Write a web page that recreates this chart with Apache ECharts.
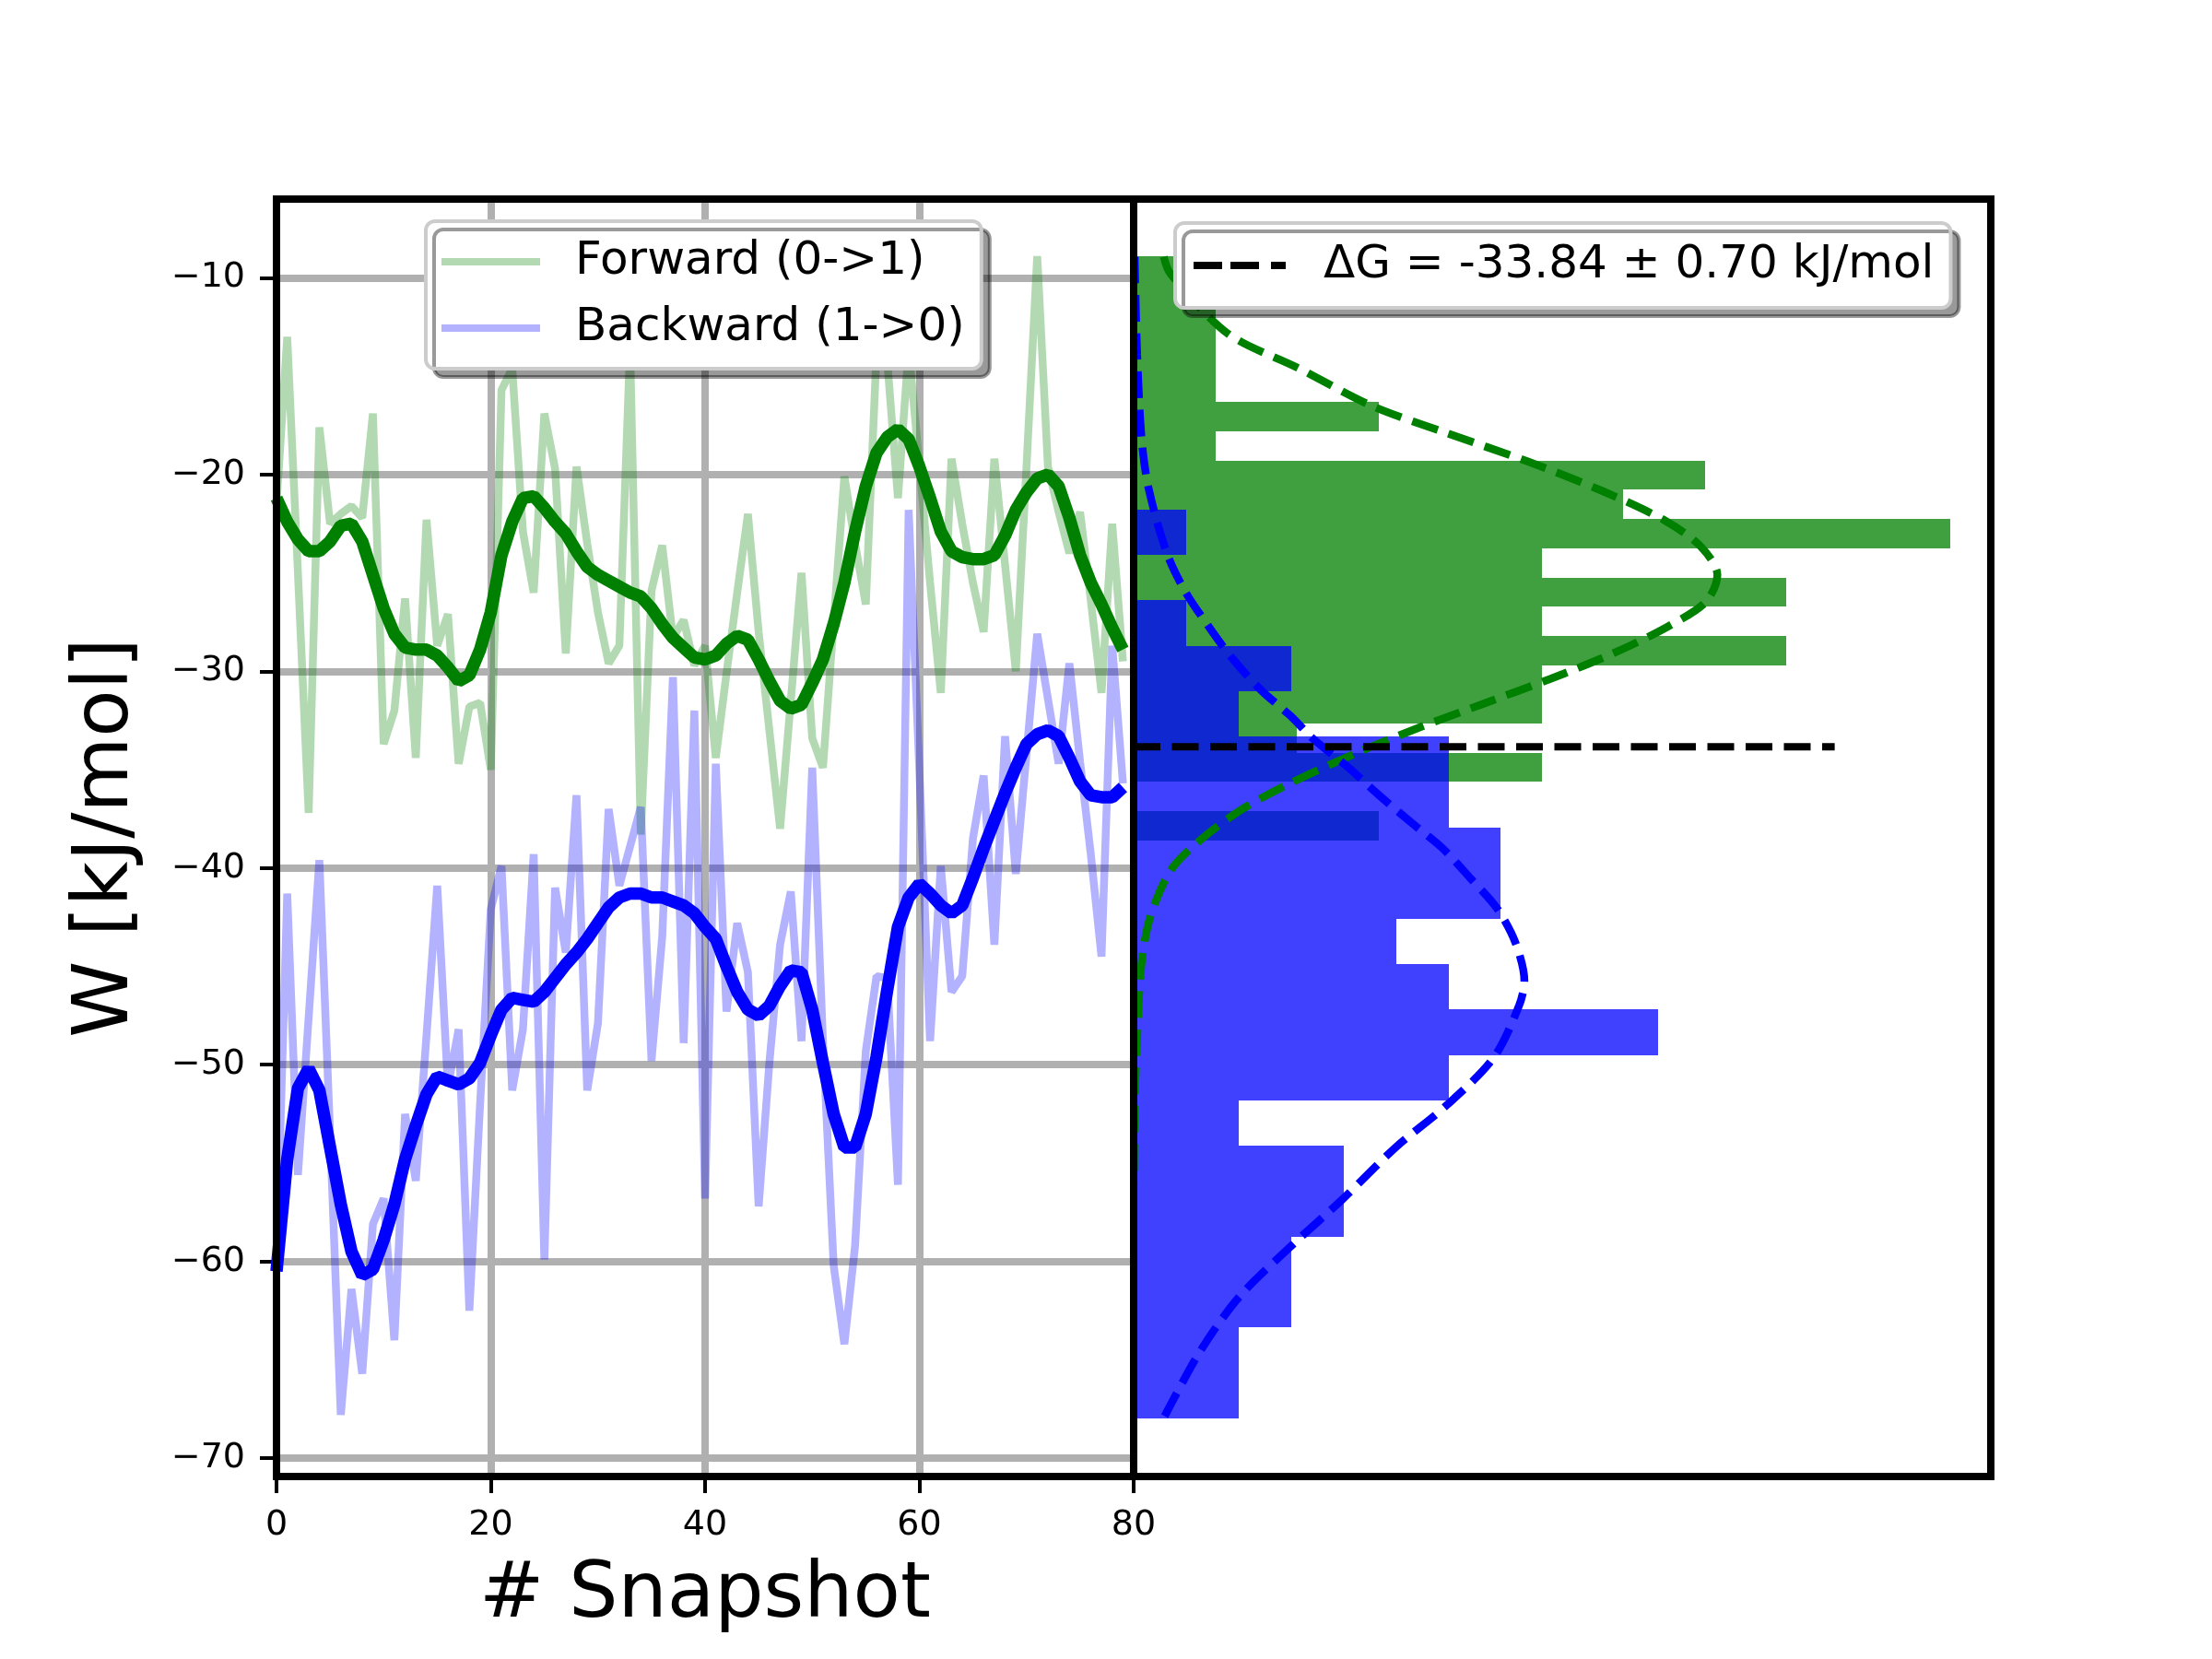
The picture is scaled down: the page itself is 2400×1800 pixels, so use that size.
<!DOCTYPE html>
<html>
<head>
<meta charset="utf-8">
<title>Work distribution</title>
<script src="https://cdn.jsdelivr.net/npm/echarts@6/dist/echarts.min.js"></script>
<style>
  html, body { margin: 0; padding: 0; background: #fff; }
  #chart { width: 2400px; height: 1800px; }
</style>
</head>
<body>
<div id="chart"></div>
<script>
// 前向/反向功值（每个快照）
var forwardWork = [
  -21.5, -13.0, -25.0, -37.2, -17.6, -22.5, -22.0, -21.6, -22.2, -16.9,
  -33.7, -32.0, -26.3, -34.4, -22.3, -28.7, -27.1, -34.7, -31.8, -31.6,
  -35.0, -15.7, -14.6, -22.9, -26.0, -16.9, -19.7, -29.1, -19.6, -23.5,
  -27.0, -29.6, -28.7, -13.5, -38.3, -25.9, -23.6, -28.3, -27.4, -29.7,
  -28.7, -34.4, -30.1, -26.0, -22.0, -28.0, -33.0, -38.0, -31.5, -25.0,
  -33.4, -34.9, -27.5, -20.1, -23.5, -26.6, -13.8, -14.2, -21.2, -13.6,
  -19.5, -25.5, -31.1, -19.2, -22.5, -25.5, -28.0, -19.2, -24.6, -30.0,
  -19.6, -8.9, -19.6, -21.9, -24.0, -21.9, -26.4, -31.1, -22.5, -29.5
];
var backwardWork = [
  -60.0, -41.3, -55.6, -47.6, -39.6, -53.5, -67.8, -61.4, -65.7, -58.1,
  -56.8, -64.0, -52.5, -55.9, -48.5, -40.9, -51.1, -48.2, -62.5, -52.0,
  -42.1, -39.9, -51.3, -48.2, -39.3, -59.9, -41.0, -44.3, -36.3, -51.3,
  -47.9, -37.0, -40.9, -38.9, -36.9, -49.8, -43.5, -30.3, -48.9, -32.0,
  -56.8, -34.7, -47.3, -42.8, -45.3, -57.2, -49.9, -43.9, -41.2, -48.8,
  -34.9, -48.8, -60.2, -64.2, -59.2, -49.3, -45.5, -45.6, -56.1, -21.8,
  -35.0, -48.8, -39.9, -46.3, -45.5, -38.5, -35.3, -43.9, -33.3, -40.3,
  -34.2, -28.1, -31.4, -34.7, -29.6, -34.6, -39.3, -44.5, -28.7, -35.7
];
// 平滑曲线
var forwardSmooth = [
  -21.2, -22.4, -23.3, -23.9, -23.9, -23.4, -22.6, -22.5, -23.4, -25.1,
  -26.8, -28.1, -28.8, -28.9, -28.9, -29.2, -29.8, -30.5, -30.2, -28.9,
  -27.0, -24.1, -22.4, -21.2, -21.1, -21.7, -22.4, -23.0, -23.9, -24.7,
  -25.1, -25.4, -25.7, -26.0, -26.2, -26.8, -27.6, -28.3, -28.8, -29.3,
  -29.4, -29.2, -28.6, -28.2, -28.4, -29.4, -30.5, -31.5, -31.9, -31.7,
  -30.6, -29.4, -27.6, -25.5, -22.9, -20.6, -18.9, -18.1, -17.7, -18.2,
  -19.6, -21.2, -22.9, -23.9, -24.2, -24.3, -24.3, -24.1, -23.1, -21.8,
  -20.9, -20.2, -20.0, -20.6, -22.2, -24.1, -25.5, -26.6, -27.8, -28.9
];
var backwardSmooth = [
  -60.5, -54.8, -51.2, -50.2, -51.3, -54.2, -57.1, -59.5, -60.7, -60.4,
  -58.9, -57.1, -54.8, -53.1, -51.5, -50.6, -50.8, -51.0, -50.7, -49.9,
  -48.5, -47.2, -46.6, -46.7, -46.8, -46.3, -45.6, -44.9, -44.3, -43.6,
  -42.8, -42.0, -41.5, -41.3, -41.3, -41.5, -41.5, -41.7, -41.9, -42.3,
  -43.0, -43.6, -45.0, -46.3, -47.2, -47.5, -47.0, -46.0, -45.2, -45.3,
  -47.2, -49.9, -52.5, -54.2, -54.2, -52.5, -49.6, -46.2, -43.0, -41.5,
  -40.8, -41.3, -41.9, -42.3, -41.9, -40.5, -39.0, -37.6, -36.2, -34.9,
  -33.7, -33.2, -33.0, -33.3, -34.4, -35.6, -36.3, -36.4, -36.4, -35.9
];

// 直方图：起始上边界、箱宽、计数（从上到下）
var forwardBinTop = -8.9;
var forwardBinWidth = 1.485;
var forwardCounts = [1, 1, 1, 1, 1, 3, 1, 7, 6, 10, 5, 8, 5, 8, 5, 5, 2, 5, 0, 3];
var backwardBinTop = -21.78;
var backwardBinWidth = 2.31;
var backwardCounts = [1, 0, 1, 3, 2, 6, 6, 7, 7, 5, 6, 10, 6, 2, 4, 4, 3, 3, 2, 2];

// 高斯拟合虚线 [W, 密度]
var forwardFitW = [-8.93, -9.80, -12.83, -14.57, -16.52, -17.90, -19.33, -20.85, -22.37, -23.67, -25.10,
  -26.48, -27.78, -29.08, -30.38, -31.68, -32.89, -34.19, -35.80, -37.10, -38.61, -40.13,
  -42.51, -44.89, -48.58, -52.0, -56.0];
var forwardFitD = [0.0031, 0.0038, 0.0097, 0.0169, 0.0246, 0.0323, 0.0406, 0.0484, 0.0549, 0.0585, 0.0602,
  0.0590, 0.0549, 0.0495, 0.0430, 0.0359, 0.0293, 0.0228, 0.0157, 0.0109, 0.0068, 0.0038,
  0.0017, 0.0008, 0.00036, 0.0001, 0.00002];
var backwardFitW = [-8.93, -13.9, -18.25, -20.74, -24.00, -25.93, -27.68, -29.27, -30.94, -32.28, -33.45,
  -34.79, -36.30, -37.72, -38.97, -40.56, -42.07, -43.83, -45.76, -47.06, -49.66, -52.05,
  -54.21, -56.81, -59.19, -61.79, -64.61, -67.86];
var backwardFitD = [0.0001, 0.00036, 0.00083, 0.00156, 0.00343, 0.0053, 0.00767, 0.01005, 0.0131, 0.0162, 0.01854,
  0.0219, 0.0253, 0.0287, 0.0318, 0.0348, 0.0375, 0.0394, 0.0403, 0.0397, 0.0371, 0.0323,
  0.0270, 0.0216, 0.0163, 0.0109, 0.0068, 0.0032];

var deltaG = -33.84;
var deltaGLineEnd = 0.0723;
var deltaGLabel = 'ΔG = -33.84 ± 0.70 kJ/mol';

var yTicks = [-70, -60, -50, -40, -30, -20, -10];

var FONT = 'DejaVu Sans';

function pairs(xs, ys) {
    var out = [];
    for (var i = 0; i < ys.length; i++) {
        out.push([xs[i], ys[i]]);
    }
    return out;
}

function indexed(values) {
    var out = [];
    for (var i = 0; i < values.length; i++) {
        out.push([i, values[i]]);
    }
    return out;
}

// 计数 -> 密度（按快照总数归一化）
function histData(top, width, counts, n) {
    var out = [];
    for (var i = 0; i < counts.length; i++) {
        if (counts[i] === 0) continue;
        out.push([counts[i] / (n * width), top - i * width, top - (i + 1) * width]);
    }
    return out;
}

function histItem(color) {
    return function(params, api) {
        var p0 = api.coord([0, api.value(1)]);
        var p1 = api.coord([api.value(0), api.value(2)]);
        var y0 = Math.round(p0[1]), y1 = Math.round(p1[1]);
        return {
            type: 'rect',
            shape: { x: Math.round(p0[0]), y: y0, width: Math.round(p1[0]) - Math.round(p0[0]), height: y1 - y0 },
            style: { fill: color }
        };
    };
}

var chart = echarts.init(document.getElementById('chart'), null, { renderer: 'canvas' });

var yMin = -70.93, yMax = -6.0;

var legendBase = {
    orient: 'vertical',
    backgroundColor: '#fff',
    borderColor: '#cccccc',
    borderWidth: 4,
    borderRadius: 10,
    shadowColor: 'rgba(0,0,0,0.4)',
    shadowBlur: 0,
    shadowOffsetX: 9,
    shadowOffsetY: 9,
    itemGap: 22,
    itemHeight: 50,
    z: 6
};

var solidIcon = 'path://M0,0h107v8h-107z';
var dashIcon = 'path://M0,0h31v8h-31zM40,0h31v8h-31zM84,0h16v8h-16z';

chart.setOption({
    animation: false,
    backgroundColor: '#fff',
    textStyle: { fontFamily: FONT, color: '#000' },
    grid: [
        { left: 300, top: 216, width: 930, height: 1386, show: true, borderColor: '#000', borderWidth: 8, z: 10 },
        { left: 1230, top: 216, width: 930, height: 1386, show: true, borderColor: '#000', borderWidth: 8, z: 10 }
    ],
    legend: [
        Object.assign({}, legendBase, {
            left: 462, top: 240,
            padding: [19, 18, 19, 17],
            itemWidth: 107,
            data: [
                { name: 'Forward (0->1)', icon: solidIcon },
                { name: 'Backward (1->0)', icon: solidIcon }
            ],
            textStyle: { fontFamily: FONT, fontSize: 50, color: '#000', padding: [0, 0, 0, 33], lineHeight: 50 }
        }),
        Object.assign({}, legendBase, {
            left: 1275, top: 242,
            padding: [21, 18, 21, 20],
            itemWidth: 100,
            data: [{ name: deltaGLabel, icon: dashIcon }],
            textStyle: { fontFamily: FONT, fontSize: 50, color: '#000', padding: [0, 0, 0, 36], lineHeight: 50 }
        })
    ],
    xAxis: [
        {
            gridIndex: 0, type: 'value', min: 0, max: 80, interval: 20,
            name: '# Snapshot', nameLocation: 'middle', nameGap: 88,
            nameTextStyle: { fontFamily: FONT, fontSize: 84, color: '#000' },
            axisLine: { show: false },
            axisTick: { show: true, inside: false, length: 18, lineStyle: { color: '#000', width: 4 } },
            axisLabel: { fontFamily: FONT, fontSize: 38, color: '#000', margin: 34 },
            splitLine: { show: true, lineStyle: { color: '#b0b0b0', width: 8 } }
        },
        {
            gridIndex: 1, type: 'value', min: 0, max: 0.0884, show: false,
            splitLine: { show: false }
        }
    ],
    yAxis: [
        {
            gridIndex: 0, type: 'value', min: yMin, max: yMax, splitNumber: 6,
            name: 'W [kJ/mol]', nameLocation: 'middle', nameGap: 142, nameRotate: 90,
            nameTextStyle: { fontFamily: FONT, fontSize: 84, color: '#000' },
            axisLine: { show: false },
            axisTick: { show: true, length: 18, lineStyle: { color: '#000', width: 4 }, customValues: yTicks },
            axisLabel: {
                fontFamily: FONT, fontSize: 38, color: '#000', margin: 34,
                customValues: yTicks,
                formatter: function(v) {
                    if (Math.abs(v - Math.round(v / 10) * 10) > 1e-6) return '';
                    return v < 0 ? '\u2212' + Math.abs(v) : String(v);
                }
            },
            splitLine: { show: true, lineStyle: { color: '#b0b0b0', width: 8 } }
        },
        {
            gridIndex: 1, type: 'value', min: yMin, max: yMax, show: false,
            splitLine: { show: false }
        }
    ],
    series: [
        {
            name: 'Forward (0->1)', type: 'line', xAxisIndex: 0, yAxisIndex: 0,
            data: indexed(forwardWork), symbol: 'none', showSymbol: false,
            color: 'rgba(0,128,0,0.3)',
            lineStyle: { color: 'rgba(0,128,0,0.3)', width: 8.5 }, z: 2
        },
        {
            name: 'Backward (1->0)', type: 'line', xAxisIndex: 0, yAxisIndex: 0,
            data: indexed(backwardWork), symbol: 'none', showSymbol: false,
            color: 'rgba(0,0,255,0.3)',
            lineStyle: { color: 'rgba(0,0,255,0.3)', width: 8.5 }, z: 2
        },
        {
            name: 'forwardSmooth', type: 'line', xAxisIndex: 0, yAxisIndex: 0,
            data: indexed(forwardSmooth), symbol: 'none', showSymbol: false,
            lineStyle: { color: '#008000', width: 13.5 }, z: 3
        },
        {
            name: 'backwardSmooth', type: 'line', xAxisIndex: 0, yAxisIndex: 0,
            data: indexed(backwardSmooth), symbol: 'none', showSymbol: false,
            lineStyle: { color: '#0000ff', width: 13.5 }, z: 3
        },
        {
            name: 'forwardHist', type: 'custom', xAxisIndex: 1, yAxisIndex: 1,
            renderItem: histItem('rgba(0,128,0,0.75)'),
            encode: { x: 0, y: [1, 2] },
            data: histData(forwardBinTop, forwardBinWidth, forwardCounts, forwardWork.length), z: 2
        },
        {
            name: 'backwardHist', type: 'custom', xAxisIndex: 1, yAxisIndex: 1,
            renderItem: histItem('rgba(0,0,255,0.75)'),
            encode: { x: 0, y: [1, 2] },
            data: histData(backwardBinTop, backwardBinWidth, backwardCounts, backwardWork.length), z: 2
        },
        {
            name: 'forwardFit', type: 'line', xAxisIndex: 1, yAxisIndex: 1,
            data: pairs(forwardFitD, forwardFitW), symbol: 'none', showSymbol: false, smooth: 0.3,
            lineStyle: { color: '#008000', width: 8.5, type: [29, 12.5] }, z: 3
        },
        {
            name: 'backwardFit', type: 'line', xAxisIndex: 1, yAxisIndex: 1,
            data: pairs(backwardFitD, backwardFitW), symbol: 'none', showSymbol: false, smooth: 0.3,
            lineStyle: { color: '#0000ff', width: 8.5, type: [29, 12.5] }, z: 3
        },
        {
            name: deltaGLabel, type: 'line', xAxisIndex: 1, yAxisIndex: 1,
            data: [[0, deltaG], [deltaGLineEnd, deltaG]], symbol: 'none', showSymbol: false,
            color: '#000',
            lineStyle: { color: '#000', width: 8, type: [29, 12.5] }, z: 4
        }
    ]
});
</script>
</body>
</html>
